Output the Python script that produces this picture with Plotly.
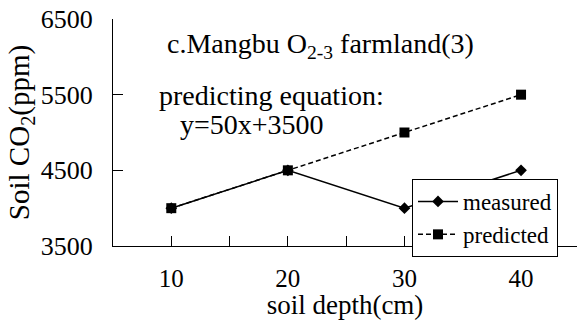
import plotly.graph_objects as go

depth = [10, 20, 30, 40]
measured = [4000, 4500, 4000, 4500]
predicted = [4000, 4500, 5000, 5500]
y_ticks = [3500, 4500, 5500, 6500]
x_ticks = [10, 15, 20, 25, 30, 35, 40]
x_ticklabels = ["10", "", "20", "", "30", "", "40"]

FONT = "Liberation Serif, Times New Roman, serif"

fig = go.Figure()
fig.add_trace(go.Scatter(
    x=depth, y=predicted, name="predicted", mode="lines+markers",
    line=dict(color="black", width=1.5, dash="5px,3px"),
    marker=dict(symbol="square", size=10, color="black"),
))
fig.add_trace(go.Scatter(
    x=depth, y=measured, name="measured", mode="lines+markers",
    line=dict(color="black", width=1.5),
    marker=dict(symbol="diamond", size=9, color="black"),
))

fig.update_layout(
    width=577, height=320,
    margin=dict(l=113, r=0, t=19, b=74),
    paper_bgcolor="white", plot_bgcolor="white",
    font=dict(family=FONT, color="black", size=26),
    showlegend=True,
    legend=dict(
        x=(412 - 113) / 464, y=(246 - 179) / 227, xanchor="left", yanchor="top",
        bordercolor="black", borderwidth=1, bgcolor="white",
        font=dict(family=FONT, size=23, color="black"),
        traceorder="reversed", tracegroupgap=0,
        itemwidth=40, entrywidth=170, entrywidthmode="pixels",
    ),
    xaxis=dict(
        range=[5, 44.8], tickmode="array", tickvals=x_ticks, ticktext=x_ticklabels,
        ticks="inside", ticklen=10, tickcolor="black", tickwidth=1,
        showline=True, linecolor="black", linewidth=1, showgrid=False, zeroline=False,
        tickfont=dict(family=FONT, size=25), ticklabelstandoff=10,
        title=dict(text="soil depth(cm)", font=dict(family=FONT, size=27), standoff=0),
    ),
    yaxis=dict(
        range=[3500, 6500], tickmode="array", tickvals=y_ticks,
        ticks="inside", ticklen=10, tickcolor="black", tickwidth=1,
        showline=True, linecolor="black", linewidth=1, showgrid=False, zeroline=False,
        tickfont=dict(family=FONT, size=26), ticklabelstandoff=14,
        title=dict(text="Soil CO<sub>2</sub>(ppm)", font=dict(family=FONT, size=29), standoff=2),
    ),
)

fig.add_annotation(
    text="c.Mangbu O<sub>2-3</sub> farmland(3)", xref="paper", yref="paper",
    x=(165 - 113) / 464, y=(246 - 45) / 227, xanchor="left", yanchor="middle",
    showarrow=False, font=dict(family=FONT, size=28),
)
fig.add_annotation(
    text="predicting equation:", xref="paper", yref="paper",
    x=(157 - 113) / 464, y=(246 - 95) / 227, xanchor="left", yanchor="middle",
    showarrow=False, font=dict(family=FONT, size=28),
)
fig.add_annotation(
    text="y=50x+3500", xref="paper", yref="paper",
    x=(178 - 113) / 464, y=(246 - 125) / 227, xanchor="left", yanchor="middle",
    showarrow=False, font=dict(family=FONT, size=28),
)

fig.write_html("out.html")
